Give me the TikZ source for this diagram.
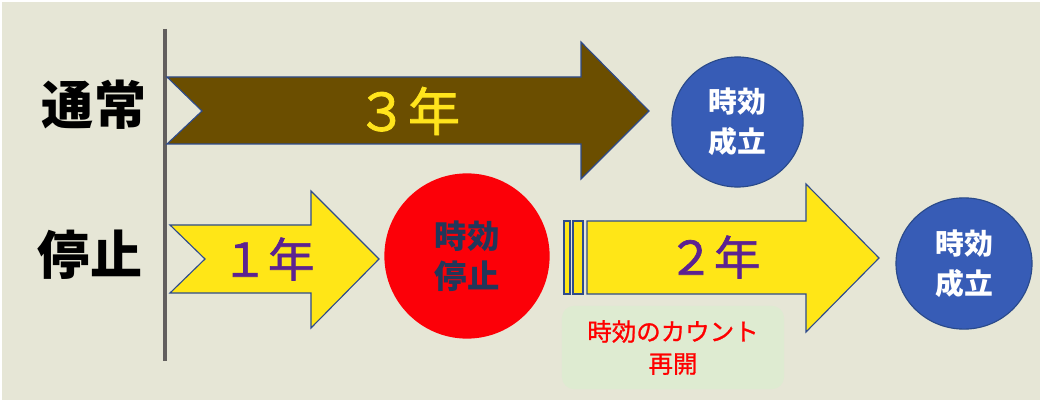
\documentclass[tikz,border=0pt]{standalone}
\usepackage{fontspec}
\setmainfont{Noto Sans CJK JP}
\usepackage{xcolor}
\usepackage{tikz}
\usetikzlibrary{positioning, shapes.geometric}

\definecolor{bgbeige}{HTML}{E6E6D6}
\definecolor{arrowline}{HTML}{2E4B8C}
\definecolor{brownfill}{HTML}{6B4E00}
\definecolor{yellowfill}{HTML}{FFE617}
\definecolor{yeartext}{HTML}{FFE41C}
\definecolor{purpletext}{HTML}{5C2291}
\definecolor{stopred}{HTML}{FC0008}
\definecolor{navytext}{HTML}{22375A}
\definecolor{doneblue}{HTML}{375CB6}
\definecolor{doneline}{HTML}{2A4A8A}
\definecolor{notegreen}{HTML}{DEEBD1}
\definecolor{axisgray}{HTML}{625F5E}

\tikzset{
  arrowshape/.style={draw=arrowline, line width=0.8pt, line join=miter},
  rowlabel/.style={font=\fontsize{37}{40}\selectfont\bfseries, text=black},
  yearlabel/.style={font=\fontsize{33}{36}\selectfont\addfontfeature{FakeBold=1.5}},
  donecircle/.style={ellipse, fill=doneblue, draw=doneline, line width=0.8pt,
    text=white, align=center, inner sep=0pt,
    font=\fontsize{20.5}{28.4}\selectfont\bfseries},
}

\begin{document}
\begin{tikzpicture}[x=0.025cm, y=-0.025cm]
		% Canvas
		\useasboundingbox (0,0) rectangle (1040,400);
		\fill[white] (0,0) rectangle (1040,400);
		\fill[bgbeige] (2,2) rectangle (1040,400);
		
		% Start line
		\draw[axisgray, line width=2.8pt] (165,29) -- (165,361);
		
		% Row labels
		\node[rowlabel] (normal) at (94,105) {通常};
		\node[rowlabel] (stopped) at (90,255) {停止};
		
		% Arrows
		\draw[arrowshape, fill=brownfill] (167,77) -- (581,77) -- (581,42) -- (649,111)
		  -- (581,179) -- (581,144) -- (167,144) -- (202,111) -- cycle;
		\draw[arrowshape, fill=yellowfill] (170,225) -- (311,225) -- (311,191) -- (379,259)
		  -- (311,328) -- (311,293) -- (170,293) -- (205,259) -- cycle;
		\draw[arrowshape, fill=yellowfill] (564,221) rectangle (570,294);
		\draw[arrowshape, fill=yellowfill] (573,221) rectangle (583,294);
		\draw[arrowshape, fill=yellowfill] (587,221) -- (806,221) -- (806,184) -- (879,258)
		  -- (806,332) -- (806,294) -- (587,294) -- cycle;
		
		% Arrow labels
		\node[text=yeartext, font=\fontsize{37}{40}\selectfont\addfontfeature{FakeBold=1.5}] (three) at (408,111) {３年};
		\node[yearlabel, text=purpletext] (one) at (268,259) {１年};
		\node[yearlabel, text=purpletext] (two) at (714,257) {２年};
		
		% Circles
		\node[circle, fill=stopred, minimum size=4.13cm, inner sep=0pt, align=center,
		  text=navytext, font=\fontsize{23}{28.4}\selectfont\bfseries] (halt) at (467,256) {時効\\停止};
		\node[donecircle, minimum width=3.28cm, minimum height=3.25cm] (done1) at (737.5,122) {時効\\成立};
		\node[donecircle, minimum width=3.4cm, minimum height=3.28cm] (done2) at (964,263.5) {時効\\成立};
		
		% Restart note
		\node[fill=notegreen, rounded corners=0.3cm, minimum width=5.55cm, minimum height=2.08cm,
		  align=center, text=red, font=\fontsize{17.4}{22.8}\selectfont\addfontfeature{FakeBold=1}] (restart) at (673,347.5)
		  {時効のカウント\\再開};
	\end{tikzpicture}
\end{document}
